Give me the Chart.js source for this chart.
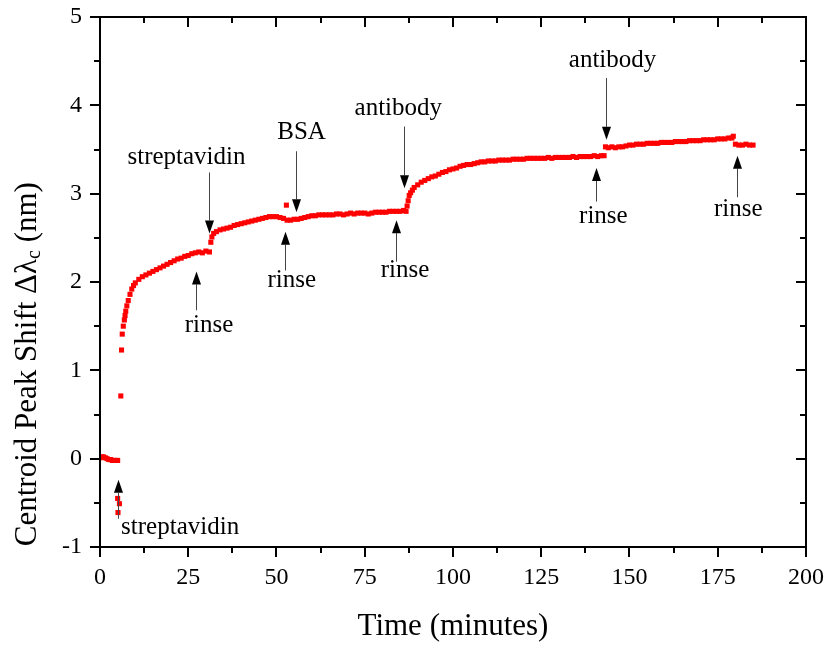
<!DOCTYPE html>
<html>
<head>
<meta charset="utf-8">
<script src="https://cdn.jsdelivr.net/npm/chart.js@4.4.1/dist/chart.umd.min.js"></script>
<style>
html, body { margin: 0; padding: 0; background: #fff; }
</style>
</head>
<body>
<canvas id="chart" width="828" height="648"></canvas>
<script>
// time in minutes, centroid peak shift in nm
const timeMin = [
  0, 0.5, 1, 1.5, 2, 2.5, 3, 3.5, 4, 4.5, 5,
  5.0, 5.5, 5.1,
  5.9, 6.1, 6.3, 6.6, 6.9, 7.1, 7.3, 7.6, 8.0, 8.5, 9.0, 9.5, 10, 11, 12, 13, 14, 15, 16, 17, 18, 19, 20,
  21, 22, 23, 24, 25, 26, 27, 28, 29, 30, 31,
  31.4, 31.7, 32.2, 33, 34, 35, 36, 37, 38, 39, 40, 41, 42, 43, 44, 45, 46, 47, 48, 49, 50, 51, 52,
  53, 54, 55, 56, 57, 58, 59, 60, 61, 62, 63, 64, 65, 66, 67, 68, 69, 70, 71, 72, 73, 74, 75, 76, 77,
  78, 79, 80, 81, 82, 83, 84, 85, 86, 86.7,
  52.8,
  87.0, 87.3, 87.6, 88, 88.5, 89, 90, 91, 92, 93, 94, 95, 96, 97, 98, 99, 100, 101, 102, 103, 104, 105,
  106, 107, 108, 109, 110, 111, 112, 113, 114, 115, 116, 117, 118, 119, 120, 121, 122, 123, 124, 125,
  126, 127, 128, 129, 130, 131, 132, 133, 134, 135, 136, 137, 138, 139, 140, 141, 142, 142.8,
  143.2, 144, 145, 146, 147, 148, 149, 150, 151, 152, 153, 154, 155, 156, 157, 158, 159, 160, 161, 162,
  163, 164, 165, 166, 167, 168, 169, 170, 171, 172, 173, 174, 175, 176, 177, 178, 179, 179.4,
  180, 181, 182, 183, 184, 185
];
const shiftNm = [
  0.01, 0.02, 0.02, 0.01, 0.00, -0.01, -0.01, -0.02, -0.02, -0.02, -0.02,
  -0.45, -0.51, -0.61,
  0.71, 1.23, 1.41, 1.50, 1.57, 1.62, 1.67, 1.73, 1.79, 1.86, 1.92, 1.96, 1.99, 2.03, 2.06, 2.08, 2.10, 2.12, 2.14, 2.16, 2.18, 2.20, 2.22,
  2.24, 2.26, 2.27, 2.29, 2.30, 2.32, 2.33, 2.34, 2.33, 2.35, 2.34,
  2.45, 2.51, 2.55, 2.57, 2.59, 2.60, 2.61, 2.62, 2.64, 2.65, 2.66, 2.67, 2.68, 2.69, 2.70, 2.71, 2.72, 2.73, 2.74, 2.74, 2.74, 2.73, 2.72,
  2.70, 2.70, 2.71, 2.71, 2.72, 2.73, 2.74, 2.75, 2.75, 2.76, 2.76, 2.76, 2.76, 2.76, 2.77, 2.77, 2.76, 2.77, 2.78, 2.77, 2.78, 2.78, 2.78, 2.77, 2.78,
  2.79, 2.79, 2.79, 2.79, 2.80, 2.80, 2.80, 2.80, 2.81, 2.80,
  2.87,
  2.86, 2.92, 2.98, 3.01, 3.04, 3.07, 3.10, 3.13, 3.15, 3.17, 3.19, 3.20, 3.22, 3.24, 3.25, 3.27, 3.28, 3.29, 3.31, 3.32, 3.33, 3.33,
  3.34, 3.35, 3.36, 3.36, 3.37, 3.37, 3.37, 3.38, 3.38, 3.38, 3.38, 3.39, 3.39, 3.39, 3.39, 3.40, 3.40, 3.40, 3.40, 3.40,
  3.40, 3.41, 3.40, 3.41, 3.41, 3.41, 3.41, 3.41, 3.42, 3.41, 3.42, 3.42, 3.42, 3.42, 3.43, 3.42, 3.43, 3.43,
  3.53, 3.52, 3.53, 3.52, 3.53, 3.53, 3.54, 3.55, 3.55, 3.56, 3.56, 3.56, 3.57, 3.57, 3.57, 3.57, 3.58, 3.58, 3.58, 3.58,
  3.59, 3.59, 3.59, 3.59, 3.60, 3.60, 3.60, 3.60, 3.61, 3.61, 3.61, 3.61, 3.62, 3.62, 3.62, 3.63, 3.63, 3.65,
  3.56, 3.55, 3.55, 3.56, 3.55, 3.55
];

const xTicks = [0, 25, 50, 75, 100, 125, 150, 175, 200];
const xMinorTicks = [12.5, 37.5, 62.5, 87.5, 112.5, 137.5, 162.5, 187.5];
const yTicks = [-1, 0, 1, 2, 3, 4, 5];
const yMinorTicks = [-0.5, 0.5, 1.5, 2.5, 3.5, 4.5];

// annotations: label, label position, arrow x, arrow tail y, arrow tip y (data units)
const noteLabels = ['streptavidin', 'rinse', 'streptavidin', 'BSA', 'rinse', 'antibody', 'rinse', 'antibody', 'rinse', 'rinse'];
const noteX = [22.7, 30.9, 24.5, 57.1, 54.3, 84.5, 86.4, 145.2, 142.6, 180.8];
const noteY = [-0.78, 1.51, 3.41, 3.69, 2.02, 3.97, 2.13, 4.51, 2.74, 2.82];
const arrowX = [5.1, 27.2, 30.9, 55.5, 52.4, 86.2, 83.9, 143.3, 140.5, 180.4];
const arrowFrom = [-0.68, 1.68, 3.24, 3.48, 2.13, 3.76, 2.23, 4.31, 2.91, 2.96];
const arrowTo = [-0.24, 2.12, 2.55, 2.79, 2.57, 3.06, 2.70, 3.61, 3.29, 3.43];

const serif = '"Liberation Serif", "Times New Roman", serif';

const framePlugin = {
  id: 'frame',
  afterDraw(chart) {
    const ctx = chart.ctx;
    const a = chart.chartArea;
    const xs = chart.scales.x;
    const ys = chart.scales.y;
    ctx.save();
    ctx.strokeStyle = '#000';
    ctx.lineWidth = 2;
    ctx.strokeRect(a.left, a.top, a.right - a.left, a.bottom - a.top);

    function xTick(v, len) {
      const px = Math.round(xs.getPixelForValue(v));
      ctx.beginPath();
      ctx.moveTo(px, a.bottom); ctx.lineTo(px, a.bottom + len);
      ctx.moveTo(px, a.top); ctx.lineTo(px, a.top + len);
      ctx.stroke();
    }
    function yTick(v, len) {
      const py = Math.round(ys.getPixelForValue(v));
      ctx.beginPath();
      ctx.moveTo(a.left, py); ctx.lineTo(a.left - len, py);
      ctx.moveTo(a.right, py); ctx.lineTo(a.right - len, py);
      ctx.stroke();
    }
    xTicks.forEach(v => xTick(v, 10));
    xMinorTicks.forEach(v => xTick(v, 6));
    yTicks.forEach(v => yTick(v, 10));
    yMinorTicks.forEach(v => yTick(v, 6));

    // arrows and labels
    ctx.font = '25px ' + serif;
    ctx.textAlign = 'center';
    ctx.textBaseline = 'middle';
    noteLabels.forEach((lab, i) => {
      const ax = Math.round(xs.getPixelForValue(arrowX[i])) + 0.5;
      const y0 = ys.getPixelForValue(arrowFrom[i]);
      const y1 = ys.getPixelForValue(arrowTo[i]);
      const dir = y1 > y0 ? 1 : -1;
      const head = 13;
      ctx.strokeStyle = '#444';
      ctx.lineWidth = 1;
      ctx.beginPath();
      ctx.moveTo(ax, y0);
      ctx.lineTo(ax, y1 - dir * head);
      ctx.stroke();
      ctx.fillStyle = '#000';
      ctx.beginPath();
      ctx.moveTo(ax, y1);
      ctx.lineTo(ax - 4.5, y1 - dir * head);
      ctx.lineTo(ax + 4.5, y1 - dir * head);
      ctx.closePath();
      ctx.fill();
      ctx.fillText(lab, xs.getPixelForValue(noteX[i]), ys.getPixelForValue(noteY[i]));
    });

    // y axis title with subscript
    const parts = [['Centroid Peak Shift \u0394\u03bb', 31, 0], ['c', 20, 7], [' (nm)', 31, 0]];
    let total = 0;
    parts.forEach(p => { ctx.font = p[1] + 'px ' + serif; total += ctx.measureText(p[0]).width; });
    ctx.translate(28, a.top + (a.bottom - a.top) * 0.655);
    ctx.rotate(-Math.PI / 2);
    ctx.textAlign = 'left';
    ctx.textBaseline = 'middle';
    let cx = -total / 2;
    parts.forEach(p => {
      ctx.font = p[1] + 'px ' + serif;
      ctx.fillText(p[0], cx, p[2]);
      cx += ctx.measureText(p[0]).width;
    });
    ctx.restore();
  }
};

const ctx = document.getElementById('chart').getContext('2d');
new Chart(ctx, {
  type: 'scatter',
  data: {
    datasets: [{
      label: 'shift',
      data: timeMin.map((t, i) => ({ x: t, y: shiftNm[i] })),
      pointStyle: 'rect',
      pointRadius: 3.6,
      pointBorderWidth: 0,
      backgroundColor: '#ff0000',
      borderColor: '#ff0000'
    }]
  },
  options: {
    responsive: false,
    animation: false,
    devicePixelRatio: 1,
    layout: { padding: { left: 44, right: 22, top: 17, bottom: 3 } },
    plugins: { legend: { display: false }, tooltip: { enabled: false } },
    scales: {
      x: {
        type: 'linear', min: 0, max: 200,
        afterBuildTicks: s => { s.ticks = xTicks.map(v => ({ value: v })); },
        afterFit: s => { s.paddingLeft = 0; s.paddingRight = 0; },
        grid: { display: false, drawTicks: false },
        border: { display: false },
        ticks: { padding: 16, color: '#000', font: { family: serif, size: 24 }, maxRotation: 0 },
        title: { display: true, text: 'Time (minutes)', color: '#000', font: { family: serif, size: 31 }, padding: { top: 0, bottom: 0 } }
      },
      y: {
        type: 'linear', min: -1, max: 5,
        afterBuildTicks: s => { s.ticks = yTicks.map(v => ({ value: v })); },
        afterFit: s => { s.paddingTop = 0; s.paddingBottom = 0; },
        grid: { display: false, drawTicks: false },
        border: { display: false },
        ticks: { padding: 18, color: '#000', font: { family: serif, size: 24 } }
      }
    }
  },
  plugins: [framePlugin]
});
</script>
</body>
</html>
